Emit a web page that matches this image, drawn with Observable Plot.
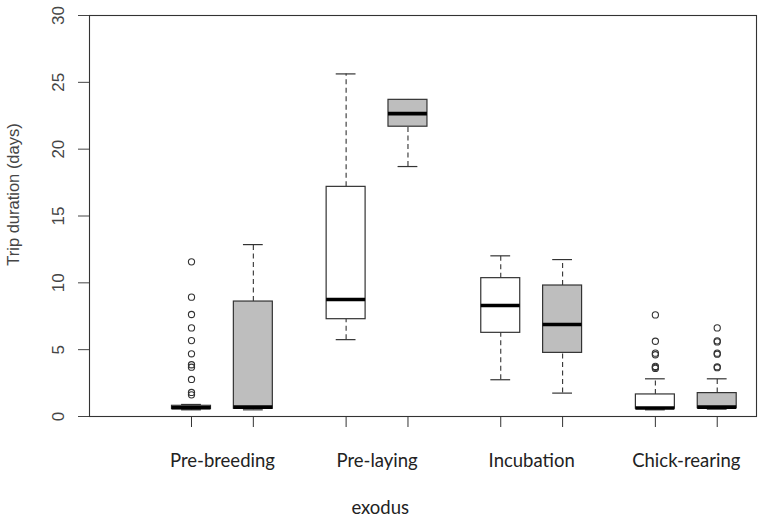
<!DOCTYPE html>
<html>
<head>
<meta charset="utf-8">
<script src="https://cdn.jsdelivr.net/npm/d3@7"></script>
<script src="https://cdn.jsdelivr.net/npm/@observablehq/plot@0.6"></script>
<style>
  html, body { margin: 0; padding: 0; background: #ffffff; }
  #chart { width: 763px; height: 519px; }
</style>
</head>
<body>
<div id="chart"></div>
<script>
// ---- Data ----
const groups = ["Pre-breeding", "Pre-laying", "Incubation", "Chick-rearing"];
const seriesNames = ["Series 1", "Series 2"];

// one [series1, series2] pair per group
const whiskerLow  = [[0.50, 0.50], [5.75, 18.70], [2.75, 1.75], [0.50, 0.55]];
const quartile1   = [[0.56, 0.58], [7.28, 21.68], [6.26, 4.76], [0.58, 0.62]];
const medians     = [[0.66, 0.70], [8.75, 22.66], [8.30, 6.88], [0.64, 0.70]];
const quartile3   = [[0.80, 8.60], [17.18, 23.69], [10.35, 9.80], [1.65, 1.75]];
const whiskerHigh = [[0.90, 12.86], [25.63, 23.69], [12.02, 11.74], [2.82, 2.82]];
const outliers = [
  [[11.57, 8.93, 7.63, 6.63, 5.68, 4.69, 3.87, 3.69, 2.77, 1.80, 1.62], []],
  [[], []],
  [[], []],
  [[7.60, 5.63, 4.74, 4.62, 3.75, 3.68, 3.60], [6.63, 5.66, 5.58, 4.74, 4.66, 3.72, 3.65]]
];
const yTicks = [0, 5, 10, 15, 20, 25, 30];
const yTitle = "Trip duration (days)";
const xTitle = "exodus";

// ---- Layout helpers (box positions along a linear x scale) ----
const pos = (gi, si) => 1 + 2.5 * gi + si;
const groupCenter = gi => pos(gi, 0) + 0.5;
const halfBox = 0.315, halfCap = 0.16;

const stats = [];
const outlierRows = [];
groups.forEach((g, gi) => {
  seriesNames.forEach((s, si) => {
    stats.push({
      group: g, series: s, pos: pos(gi, si),
      lo: whiskerLow[gi][si], q1: quartile1[gi][si], med: medians[gi][si],
      q3: quartile3[gi][si], hi: whiskerHigh[gi][si]
    });
    outliers[gi][si].forEach(v => outlierRows.push({group: g, series: s, pos: pos(gi, si), value: v}));
  });
});
const boxPositions = stats.map(d => d.pos);
const centers = groups.map((g, gi) => groupCenter(gi));

const ink = "#333333";
const textColor = "#454545";
const sansR = "'Liberation Sans', Arial, sans-serif";
const sansC = "Lato, 'Open Sans', sans-serif";

const chart = Plot.plot({
  width: 763,
  height: 519,
  marginLeft: 89,
  marginRight: 7,
  marginTop: 15,
  marginBottom: 103,
  style: {background: "#ffffff", fontFamily: sansR, overflow: "visible"},
  x: {domain: [-0.649, 10.135], axis: null},
  y: {domain: [0, 30], axis: null},
  color: {domain: seriesNames, range: ["#ffffff", "#bebebe"]},
  marks: [
    // whiskers
    Plot.ruleX(stats, {x: "pos", y1: "q3", y2: "hi", stroke: ink, strokeWidth: 1.1, strokeDasharray: "5,3.5"}),
    Plot.ruleX(stats, {x: "pos", y1: "lo", y2: "q1", stroke: ink, strokeWidth: 1.1, strokeDasharray: "5,3.5"}),
    // whisker caps
    Plot.ruleY(stats, {y: "hi", x1: d => d.pos - halfCap, x2: d => d.pos + halfCap, stroke: ink, strokeWidth: 1.2}),
    Plot.ruleY(stats, {y: "lo", x1: d => d.pos - halfCap, x2: d => d.pos + halfCap, stroke: ink, strokeWidth: 1.2}),
    // boxes
    Plot.rect(stats, {x1: d => d.pos - halfBox, x2: d => d.pos + halfBox, y1: "q1", y2: "q3", fill: "series", stroke: ink, strokeWidth: 1.2}),
    // medians
    Plot.ruleY(stats, {y: "med", x1: d => d.pos - halfBox, x2: d => d.pos + halfBox, stroke: "#000000", strokeWidth: 3.6}),
    // outliers
    Plot.dot(outlierRows, {x: "pos", y: "value", r: 3.1, stroke: ink, strokeWidth: 1.1, fill: "none"}),
    // frame
    Plot.frame({stroke: ink, strokeWidth: 1.1}),
    // y axis
    Plot.axisY({ticks: yTicks, tickSize: 11, tickPadding: 15, tickRotate: -90, fontSize: 17, fontFamily: sansR, color: textColor, label: null, tickFormat: d => String(d)}),
    // per-box small ticks on x axis
    Plot.axisX({ticks: boxPositions, tickSize: 11, tickFormat: () => "", color: ink, label: null}),
    // group labels
    Plot.axisX({ticks: centers, tickSize: 0, tickPadding: 37.5, tickFormat: (d, i) => groups[i], fontSize: 18.5, fontFamily: sansC, color: "#222222", label: null}),
    // axis titles
    Plot.text([yTitle], {frameAnchor: "left", rotate: -90, textAnchor: "middle", lineAnchor: "top", dx: -82, dy: -21.5, fontSize: 16.5, fontFamily: sansR, fill: textColor}),
    Plot.text([xTitle], {frameAnchor: "bottom", textAnchor: "middle", lineAnchor: "bottom", dx: -42.8, dy: 97.3, fontSize: 18.5, fontFamily: sansC, fill: "#222222"})
  ]
});
document.getElementById("chart").appendChild(chart);
</script>
</body>
</html>
